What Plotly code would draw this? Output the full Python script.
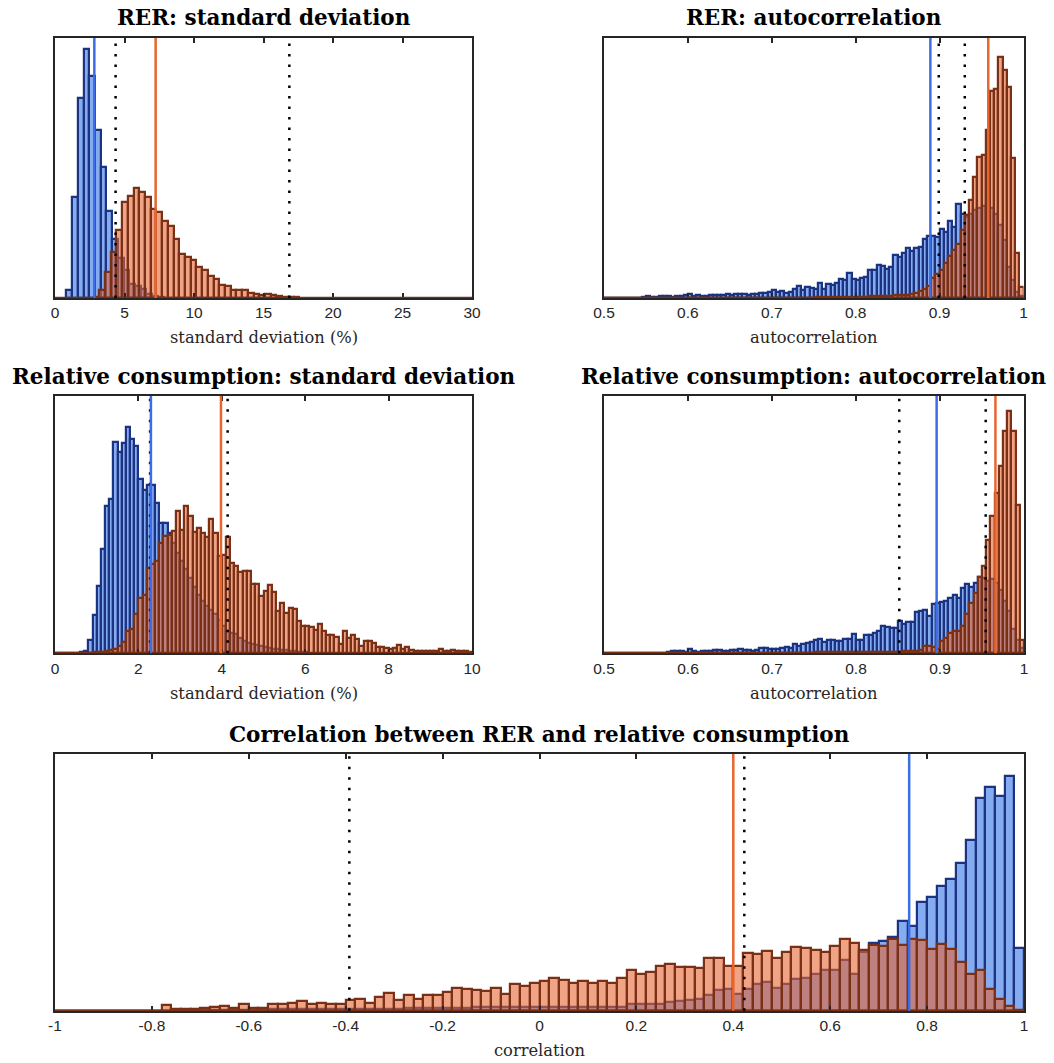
import plotly.graph_objects as go

W, H = 1054, 1063

# ---------------- data (estimated bar heights, arbitrary count units) ----------------
# Panel 1: RER standard deviation
p1_blue_start, p1_blue_width = 0.822, 0.411
p1_blue = [8, 101, 200, 249, 222, 168, 131, 87, 59, 40, 28, 14, 12, 9, 4, 2, 1]
p1_orange_start, p1_orange_width = 2.777, 0.411
p1_orange = [1, 8, 26, 46, 68, 96, 102, 110, 106, 101, 89, 86, 77, 72, 59, 44, 41, 38, 31, 28,
             22, 19, 13, 12, 8, 8, 8, 5, 4, 3, 4, 3, 2, 1, 1, 1]
p1_lines = {"blue": 2.83, "orange": 7.24, "dotted": [4.36, 16.86]}

# Panel 2: RER autocorrelation
p2_start, p2_width = 0.5, 0.005
p2_blue = [0, 0, 0, 0, 0, 0, 0, 0, 0, 1,
           2, 1, 1, 2, 2, 2, 1, 2, 2, 3,
           4, 2, 3, 2, 2, 3, 3, 3, 3, 4,
           3, 4, 4, 4, 3, 4, 4, 5, 5, 6,
           8, 6, 7, 5, 6, 9, 12, 8, 11, 10,
           9, 15, 9, 14, 13, 15, 19, 18, 25, 19,
           18, 20, 21, 28, 28, 33, 32, 29, 31, 43,
           41, 45, 50, 47, 50, 51, 59, 62, 62, 61,
           69, 66, 77, 71, 94, 84, 81, 84, 88, 90,
           92, 92, 90, 84, 73, 58, 31, 18, 6, 2]
p2_orange = [0] * 50 + [1, 1, 1, 1, 1, 1, 1, 1, 1, 1,
                        1, 1, 1, 2, 2, 2, 2, 2, 2, 3,
                        3, 3, 3, 4, 5, 7, 9, 12, 20, 24,
                        28, 35, 42, 48, 54, 68, 83, 98, 121, 141,
                        143, 168, 207, 209, 241, 228, 211, 140, 45, 11]
p2_lines = {"blue": 0.889, "orange": 0.958, "dotted": [0.899, 0.930]}

# Panel 3: relative consumption standard deviation
p3_start, p3_width = 0.0, 0.1
p3_blue = [0, 0, 0, 0, 0, 0, 1, 2, 13, 38, 67, 104, 147, 154, 211, 201, 210, 226, 214, 207,
           174, 163, 168, 168, 150, 130, 130, 120, 110, 100, 92, 84, 75, 66, 58, 52, 47, 43, 39, 33,
           27, 22, 20, 19, 15, 12, 10, 9, 8, 7, 6, 5, 4, 4, 3, 3, 2, 2, 1, 1, 1]
p3_orange = [0, 0, 0, 0, 0, 0, 0, 0, 0, 1,
             1, 1, 2, 3, 4, 7, 11, 22, 24, 39,
             55, 58, 85, 89, 92, 110, 117, 118, 122, 142,
             123, 147, 137, 121, 125, 120, 116, 134, 120, 97,
             98, 116, 90, 87, 81, 82, 82, 69, 69, 57,
             62, 68, 61, 42, 50, 40, 45, 44, 32, 27,
             27, 26, 23, 29, 22, 18, 18, 16, 9, 22,
             15, 18, 14, 7, 12, 12, 10, 6, 6, 5,
             4, 5, 8, 4, 6, 3, 2, 2, 2, 2,
             2, 2, 4, 2, 2, 3, 2, 2, 2, 1]
p3_lines = {"blue": 2.30, "orange": 3.98, "dotted": [2.28, 4.14]}

# Panel 4: relative consumption autocorrelation
p4_start, p4_width = 0.5, 0.005
p4_blue = [0, 0, 0, 0, 0, 0, 0, 0, 0, 0,
           0, 0, 0, 0, 0, 1, 2, 2, 2, 1,
           4, 2, 1, 2, 2, 2, 3, 3, 2, 2,
           3, 3, 4, 3, 3, 2, 3, 5, 5, 4,
           4, 4, 5, 6, 5, 9, 7, 9, 10, 11,
           13, 14, 11, 13, 13, 12, 12, 14, 14, 19,
           13, 13, 18, 18, 20, 22, 27, 26, 25, 25,
           32, 29, 31, 31, 41, 42, 43, 37, 49, 50,
           51, 52, 55, 58, 55, 65, 69, 66, 70, 76,
           75, 72, 74, 70, 63, 52, 42, 24, 13, 5]
p4_orange = [0] * 50 + [1, 1, 1, 1, 1, 1, 1, 1, 1, 1,
                        1, 1, 1, 1, 1, 1, 1, 1, 1, 1,
                        1, 2, 2, 2, 2, 3, 7, 7, 6, 4,
                        12, 15, 20, 22, 22, 27, 39, 50, 60, 76,
                        87, 113, 137, 160, 187, 222, 242, 222, 148, 13]
p4_lines = {"blue": 0.896, "orange": 0.966, "dotted": [0.8515, 0.9544]}

# Panel 5: correlation between RER and relative consumption
p5_start, p5_width = -1.0, 0.02
p5_blue = [0] * 11 + [0, 0, 1, 1, 1, 1, 1, 1, 1, 1,
                      2, 2, 2, 2, 2, 2, 2, 2, 2, 2,
                      2, 2, 2, 2, 2, 3, 3, 3, 3, 3,
                      3, 3, 4, 4, 4, 4, 4, 4, 4, 4,
                      4, 4, 4, 4, 4, 4, 4, 4, 7, 7,
                      7, 7, 9, 10, 11, 12, 16, 21, 22, 17,
                      22, 27, 29, 23, 27, 32, 33, 37, 41, 41,
                      51, 37, 59, 68, 70, 74, 90, 85, 109, 114,
                      125, 132, 148, 171, 213, 224, 215, 235, 63]
p5_orange = [0] * 11 + [6, 2, 2, 2, 3, 4, 5, 3, 7,
                        3, 3, 7, 7, 8, 10, 7, 8, 7, 7,
                        11, 12, 8, 14, 18, 11, 16, 12, 16, 16,
                        19, 23, 22, 21, 20, 23, 17, 27, 25, 28,
                        30, 33, 31, 28, 30, 28, 30, 28, 33, 41,
                        37, 39, 45, 47, 44, 44, 43, 53, 53, 45,
                        45, 58, 57, 60, 53, 59, 64, 63, 61, 59,
                        65, 72, 68, 61, 66, 65, 72, 66, 72, 71,
                        62, 67, 62, 49, 37, 41, 22, 12, 5, 1]
p5_lines = {"blue": 0.763, "orange": 0.400, "dotted": [-0.3925, 0.4227]}

titles = ["RER: standard deviation", "RER: autocorrelation",
          "Relative consumption: standard deviation", "Relative consumption: autocorrelation",
          "Correlation between RER and relative consumption"]
xlabels = ["standard deviation (%)", "autocorrelation", "standard deviation (%)",
           "autocorrelation", "correlation"]
tick_sd1 = [0, 5, 10, 15, 20, 25, 30]
tick_sd1_text = ["0", "5", "10", "15", "20", "25", "30"]
tick_ac = [0.5, 0.6, 0.7, 0.8, 0.9, 1.0]
tick_ac_text = ["0.5", "0.6", "0.7", "0.8", "0.9", "1"]
tick_sd2 = [0, 2, 4, 6, 8, 10]
tick_sd2_text = ["0", "2", "4", "6", "8", "10"]
tick_corr = [-1, -0.8, -0.6, -0.4, -0.2, 0, 0.2, 0.4, 0.6, 0.8, 1]
tick_corr_text = ["-1", "-0.8", "-0.6", "-0.4", "-0.2", "0", "0.2", "0.4", "0.6", "0.8", "1"]

# ---------------- styling ----------------
BLUE_FACE = "rgba(51,115,230,0.6)"
BLUE_EDGE = "#1b3380"
OR_FACE = "rgba(230,102,51,0.6)"
OR_EDGE = "#7a3014"
BLUE_LINE = "#3b6ee6"
OR_LINE = "#e8652e"
AX = "#262626"

# panel geometry in pixels: (left, right, top, bottom)
boxes = [(55, 472, 38, 298), (604, 1023.5, 38, 298),
         (55, 472, 396, 653.3), (604, 1024, 396, 653.3),
         (55, 1024, 754, 1010.7)]
xranges = [[0, 30], [0.5, 1], [0, 10], [0.5, 1], [-1, 1]]
yranges = [[0, 260], [0, 260], [0, 257], [0, 257], [0, 257]]
ticks = [(tick_sd1, tick_sd1_text), (tick_ac, tick_ac_text), (tick_sd2, tick_sd2_text),
         (tick_ac, tick_ac_text), (tick_corr, tick_corr_text)]
hists = [
    [(p1_blue_start, p1_blue_width, p1_blue), (p1_orange_start, p1_orange_width, p1_orange)],
    [(p2_start, p2_width, p2_blue), (p2_start, p2_width, p2_orange)],
    [(p3_start, p3_width, p3_blue), (p3_start, p3_width, p3_orange)],
    [(p4_start, p4_width, p4_blue), (p4_start, p4_width, p4_orange)],
    [(p5_start, p5_width, p5_blue), (p5_start, p5_width, p5_orange)],
]
vlines = [p1_lines, p2_lines, p3_lines, p4_lines, p5_lines]

fig = go.Figure()
layout = dict(width=W, height=H, margin=dict(l=0, r=0, t=0, b=0, autoexpand=False),
              paper_bgcolor="white", plot_bgcolor="white", barmode="overlay",
              showlegend=False, bargap=0)
shapes = []
annotations = []

for k in range(5):
    l, r, t, b = boxes[k]
    sfx = "" if k == 0 else str(k + 1)
    xa, ya = "x" + sfx, "y" + sfx
    layout["xaxis" + sfx] = dict(
        domain=[l / W, r / W], range=xranges[k], anchor=ya,
        tickvals=ticks[k][0], ticktext=ticks[k][1], ticks="inside", ticklen=5,
        tickwidth=1.5, tickcolor=AX, showline=True, linecolor=AX, linewidth=1.6,
        mirror="ticks", showgrid=False, zeroline=False, automargin=False,
        tickfont=dict(family="Liberation Sans, Arial", size=15.5, color=AX))
    layout["yaxis" + sfx] = dict(
        domain=[1 - b / H, 1 - t / H], range=yranges[k], anchor=xa,
        showticklabels=False, ticks="", showline=True, linecolor=AX, linewidth=1.6,
        mirror=True, showgrid=False, zeroline=False, automargin=False)
    for (start, w, counts), face, edge in zip(hists[k], [BLUE_FACE, OR_FACE], [BLUE_EDGE, OR_EDGE]):
        centers = [start + w * (i + 0.5) for i in range(len(counts))]
        fig.add_trace(go.Bar(x=centers, y=counts, width=w, xaxis=xa, yaxis=ya,
                             marker=dict(color=face, line=dict(color=edge, width=2.2)),
                             hoverinfo="skip"))
    # zero-count bins drawn as baseline (histogram edge)
    shapes.append(dict(type="line", xref=xa, yref=ya, x0=xranges[k][0], x1=xranges[k][1],
                       y0=0, y1=0, line=dict(color=OR_EDGE, width=2.5)))
    vl = vlines[k]
    for xv in vl["dotted"]:
        shapes.append(dict(type="line", xref=xa, yref=ya + " domain", x0=xv, x1=xv, y0=0, y1=1,
                           line=dict(color="black", width=2.5, dash="2.5px,8px")))
    shapes.append(dict(type="line", xref=xa, yref=ya + " domain", x0=vl["blue"], x1=vl["blue"],
                       y0=0, y1=1, line=dict(color=BLUE_LINE, width=2.5)))
    shapes.append(dict(type="line", xref=xa, yref=ya + " domain", x0=vl["orange"], x1=vl["orange"],
                       y0=0, y1=1, line=dict(color=OR_LINE, width=2.5)))
    cx = (l + r) / 2
    annotations.append(dict(text="<b>" + titles[k] + "</b>", xref="paper", yref="paper",
                            x=cx / W, y=1 - (t - 20) / H, xanchor="center", yanchor="middle",
                            showarrow=False,
                            font=dict(family="DejaVu Serif", size=21.5, color="black")))
    annotations.append(dict(text=xlabels[k], xref="paper", yref="paper",
                            x=cx / W, y=1 - (b + 40) / H, xanchor="center", yanchor="middle",
                            showarrow=False,
                            font=dict(family="DejaVu Serif", size=16.3, color=AX)))

layout["shapes"] = shapes
layout["annotations"] = annotations
fig.update_layout(**layout)
fig.write_html("out.html", config={"responsive": False, "displayModeBar": False},
               post_script="document.body.style.margin='0';document.body.style.overflow='hidden';")
